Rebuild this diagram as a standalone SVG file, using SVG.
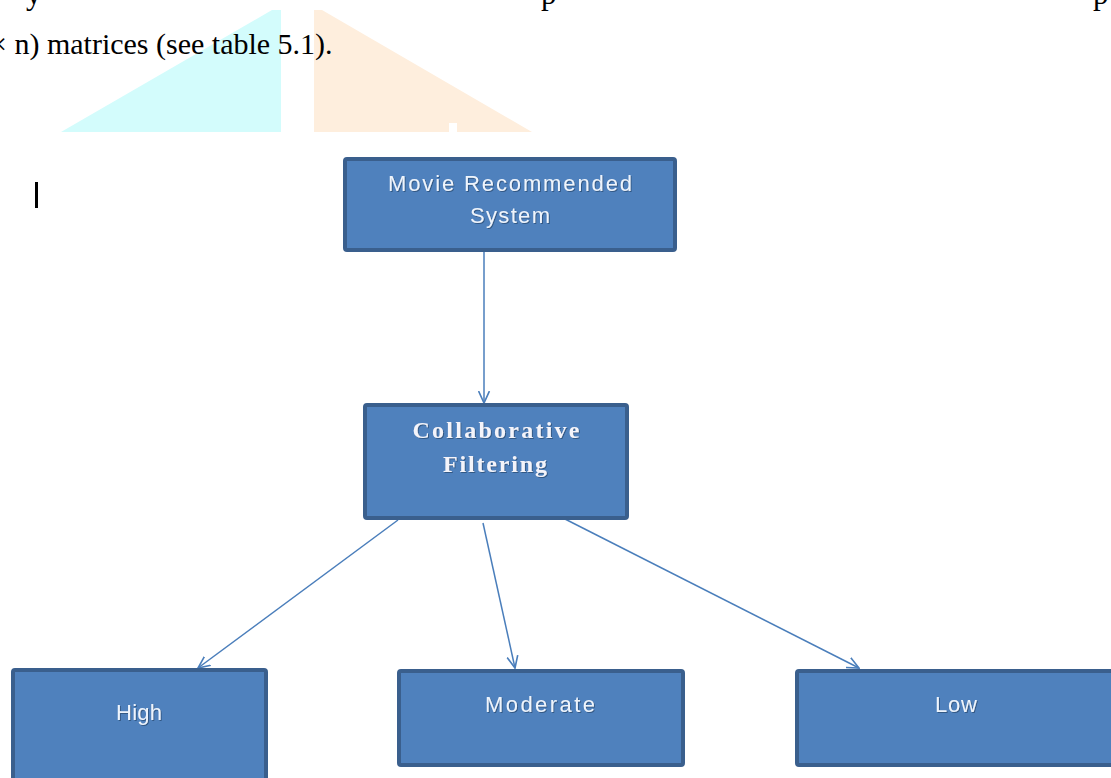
<svg xmlns="http://www.w3.org/2000/svg" width="1111" height="778" viewBox="0 0 1111 778">
<style>
.page{font-family:"Liberation Serif","Times New Roman",serif;fill:#000}
.box{fill:#4F81BD;stroke:#3A5F8D;stroke-width:4}
.lbl{font-family:"Liberation Sans",Arial,sans-serif;font-size:22px;fill:#EEF4FC;text-anchor:middle}
.bold{font-family:"Liberation Serif","Times New Roman",serif;font-size:24px;font-weight:bold;fill:#F4F4FA;text-anchor:middle}
.conn{stroke:#4A7EBB;stroke-width:1.5;fill:none;marker-end:url(#arr)}
</style>
<defs>
<marker id="arr" viewBox="0 0 12 12" refX="11" refY="6" markerWidth="13" markerHeight="13" markerUnits="userSpaceOnUse" orient="auto">
<path d="M0,1 L11,6 L0,11" fill="none" stroke="#4A7EBB" stroke-width="1.5"/>
</marker>
<filter id="sh" x="-10%" y="-20%" width="120%" height="140%">
<feDropShadow dx="1" dy="1" stdDeviation="0.6" flood-color="#1F3A5F" flood-opacity="0.6"/>
</filter>
</defs>
<rect width="1111" height="778" fill="#FFFFFF"/>
<g id="background">
<polygon points="61,132 272,10 281,10 281,132" fill="#D3FCFC"/>
<polygon points="314,10 322,10 532,132 314,132" fill="#FEEEDD"/>
<rect x="449" y="123" width="8" height="9" fill="#FFFFFF"/>
<text class="page" x="26" y="4" font-size="31">y</text>
<text class="page" x="541" y="4" font-size="31">p</text>
<text class="page" x="1093" y="4" font-size="31">p</text>
<text class="page" x="-10" y="54" font-size="30">× n) matrices (see table 5.1).</text>
<rect x="35" y="182" width="3" height="26" fill="#000"/>
</g>
<g id="connectors">
<line class="conn" x1="484" y1="252" x2="484" y2="403"/>
<line class="conn" x1="398" y1="520" x2="198" y2="668"/>
<line class="conn" x1="483" y1="523" x2="515" y2="668"/>
<line class="conn" x1="563" y1="518" x2="859" y2="668"/>
</g>
<g id="node-movie">
<rect class="box" x="345" y="159" width="330" height="91" rx="2"/>
<text class="lbl" x="510" y="191" textLength="244" lengthAdjust="spacing" filter="url(#sh)">Movie Recommended</text>
<text class="lbl" x="510" y="223" textLength="80" lengthAdjust="spacing" filter="url(#sh)">System</text>
</g>
<g id="node-cf">
<rect class="box" x="365" y="405" width="262" height="113" rx="2"/>
<text class="bold" x="496" y="438" textLength="167" lengthAdjust="spacing" filter="url(#sh)">Collaborative</text>
<text class="bold" x="495" y="472" textLength="104" lengthAdjust="spacing" filter="url(#sh)">Filtering</text>
</g>
<g id="node-high">
<rect class="box" x="13" y="670" width="253" height="112" rx="2"/>
<text class="lbl" x="139" y="720" textLength="46" lengthAdjust="spacing" filter="url(#sh)">High</text>
</g>
<g id="node-moderate">
<rect class="box" x="399" y="671" width="284" height="94" rx="2"/>
<text class="lbl" x="540" y="712" textLength="110" lengthAdjust="spacing" filter="url(#sh)">Moderate</text>
</g>
<g id="node-low">
<rect class="box" x="797" y="671" width="330" height="94" rx="2"/>
<text class="lbl" x="956" y="712" textLength="42" lengthAdjust="spacing" filter="url(#sh)">Low</text>
</g>
</svg>
